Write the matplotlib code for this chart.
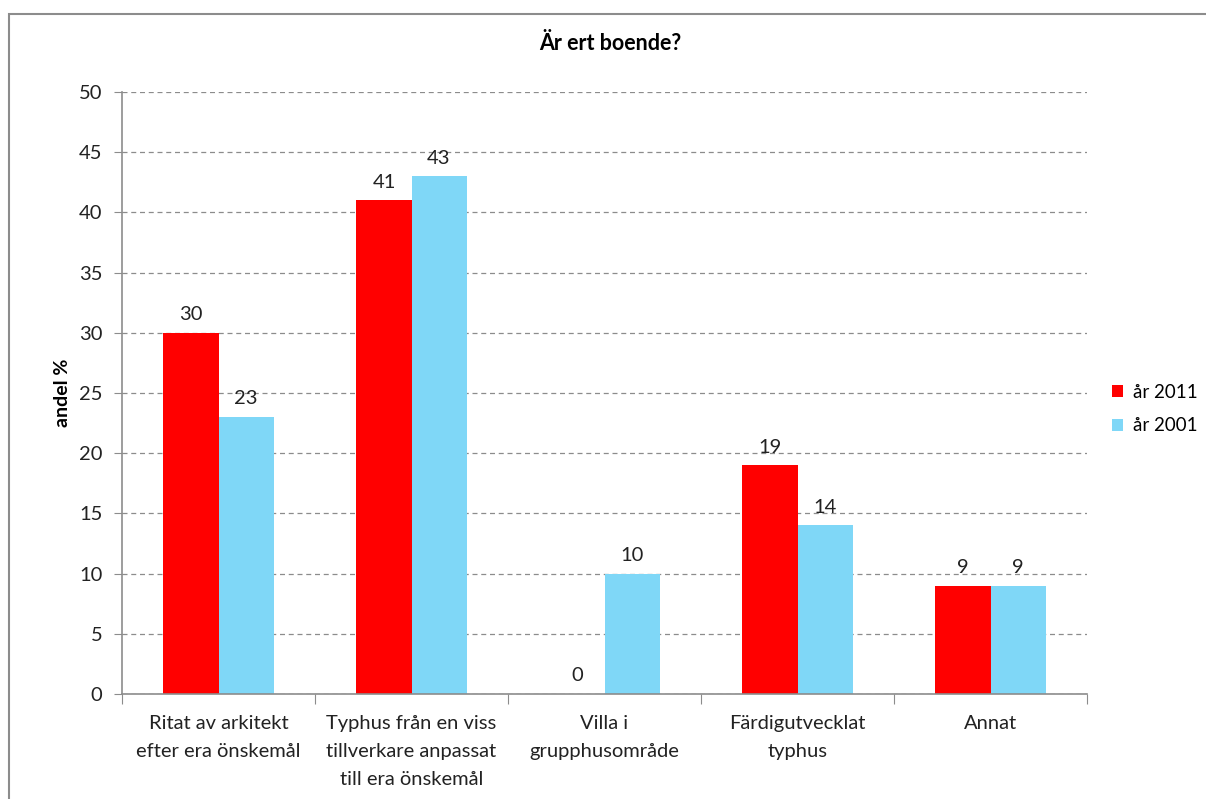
import matplotlib.pyplot as plt
import matplotlib.patches as mpatches
import numpy as np

plt.rcParams['font.family'] = ['Lato', 'DejaVu Sans']

categories = ["Ritat av arkitekt\nefter era önskemål",
              "Typhus från en viss\ntillverkare anpassat\ntill era önskemål",
              "Villa i\ngrupphusområde",
              "Färdigutvecklat\ntyphus",
              "Annat"]
values_2011 = [30, 41, 0, 19, 9]
values_2001 = [23, 43, 10, 14, 9]
series_names = ["år 2011", "år 2001"]
colors = ["#FF0000", "#7FD7F7"]

W, H = 1206, 799
fig = plt.figure(figsize=(W / 100, H / 100), dpi=100)

# outer chart border (runs off the right/bottom edge)
fig.patches.append(mpatches.Rectangle((9 / W, -0.05), 1.1, 1 - 14 / H + 0.05,
                                      transform=fig.transFigure, fill=False,
                                      edgecolor="#8c8c8c", linewidth=1.5))

ax = fig.add_axes([122 / W, 1 - 694 / H, (1087 - 122) / W, (694 - 92) / H])

x = np.arange(len(categories))
bw = 0.285
b1 = ax.bar(x - bw / 2, values_2011, bw, color=colors[0], label=series_names[0])
b2 = ax.bar(x + bw / 2, values_2001, bw, color=colors[1], label=series_names[1])

for bars, vals in ((b1, values_2011), (b2, values_2001)):
    for rect, v in zip(bars, vals):
        ax.text(rect.get_x() + rect.get_width() / 2, v + 0.8, str(v),
                ha="center", va="bottom", fontsize=14.5, color="#222222")

ax.set_xlim(-0.5, len(categories) - 0.5)
ax.set_ylim(0, 50)
ax.set_yticks(range(0, 51, 5))
ax.set_xticks(np.arange(-0.5, len(categories), 1.0), minor=False)
ax.set_xticklabels([])
ax.set_xticks(x, minor=True)
ax.set_xticklabels(categories, minor=True, fontsize=14.5, color="#222222",
                   multialignment="center", linespacing=1.8)
ax.tick_params(axis="x", which="minor", length=0, pad=15)
ax.tick_params(axis="x", which="major", length=7, color="#8c8c8c", direction="out")
ax.tick_params(axis="y", length=6, color="#8c8c8c", labelsize=14.5,
               labelcolor="#222222", pad=8)

ax.yaxis.grid(True, linestyle=(0, (4, 3)), color="#8c8c8c", linewidth=0.9)
ax.set_axisbelow(True)
for s in ("top", "right"):
    ax.spines[s].set_visible(False)
for s in ("left", "bottom"):
    ax.spines[s].set_color("#8c8c8c")
    ax.spines[s].set_linewidth(1.2)

ax.set_ylabel("andel %", fontsize=14, fontweight="bold", labelpad=6)
fig.text(610 / W, 1 - 43 / H, "Är ert boende?", ha="center", va="center",
         fontsize=15.5, fontweight="bold")

fig.legend(handles=[b1, b2], labels=series_names, loc="center left",
           bbox_to_anchor=(1112 / W, 1 - 409 / H), frameon=False,
           fontsize=13.5, handlelength=0.6, handleheight=0.6,
           handletextpad=0.5, labelspacing=0.9, borderaxespad=0, borderpad=0)

fig.savefig("out.png", dpi=100)
